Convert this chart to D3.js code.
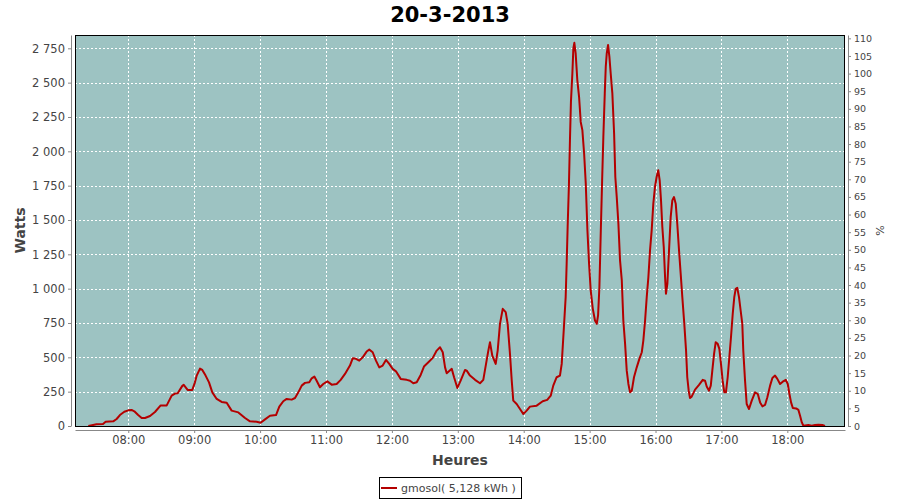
<!DOCTYPE html>
<html><head><meta charset="utf-8">
<script src="https://cdn.jsdelivr.net/npm/d3@7"></script>
<style>body{margin:0;background:#fff}svg{display:block}</style>
</head><body>
<script>
const title = "20-3-2013";
const seriesName = "gmosol( 5,128 kWh )";
const hourTicks = [480,540,600,660,720,780,840,900,960,1020,1080];
const wattTicks = [0,250,500,750,1000,1250,1500,1750,2000,2250,2500,2750];
const pctTicks = [0,5,10,15,20,25,30,35,40,45,50,55,60,65,70,75,80,85,90,95,100,105,110];
// time in minutes since midnight
const minutes = [443.6,448,451,457,459.4,466.3,469.4,472.4,476.4,480,483,485.5,489,492.2,495.2,499.8,504.3,509.5,515,519.5,522.5,525,529.2,530.5,534,538.3,540.7,542.3,545.3,547.4,550.4,553.5,556.5,560.5,565,569.6,574.1,580.2,586.3,590.8,596.9,600.5,604.5,609,614.5,617.5,621.1,624.2,628.8,631.8,634.8,637.9,640.9,644.8,647,649.4,651.5,654.5,657.5,661.2,665.2,669.7,673.4,677.3,681.8,684.3,687.3,690.3,693.4,697,699.4,702.5,705.5,708.5,711.6,714.6,717.6,720.7,723.7,728,733.5,736.5,739.5,742.6,746.2,749.2,753.2,757.2,760.8,763.8,766.3,768.4,769.9,774.5,776.6,779.6,782.6,786.6,788.1,791.1,795.7,800.2,803.2,805.7,807.8,809.3,811.4,814.5,816.3,818.4,820.9,823.6,825.4,827.5,829.1,830.5,833.6,836.6,839.6,842.7,845.7,851.8,857.3,861.4,864.6,866.9,870,873,874.6,876.6,878.2,879.1,880,881.2,882.1,883,884.3,885.2,886.1,887.3,888.8,890.4,891.9,893.4,895,896.5,898,899.5,901,902.9,904.9,906.5,907.7,908.9,910.2,911.4,912.5,913.8,914.7,915.6,916.8,918,919.2,920.7,922.3,923.4,924.7,926.2,927.7,929.3,930.7,932.3,933.8,935.3,936.8,938.4,940.4,942.9,945.3,947.5,948.9,950.5,952,953.5,955,956.5,958,959.5,961,962.5,963.8,965,966.2,967.5,968.7,969.5,970.8,972.3,973.8,975.3,976.8,978.4,979.8,981.4,982.9,984.4,986.2,987.8,988.9,990.2,991.4,992.9,996,999.6,1003,1005.1,1006.6,1008.7,1010.3,1011.7,1013.3,1014.8,1016.6,1018.1,1019.6,1021.1,1022.6,1024.1,1025.7,1027.2,1028.7,1030.3,1031.7,1033,1034.4,1036,1037.5,1039,1039.9,1041.5,1043,1045.1,1047.6,1050.6,1053.1,1055.2,1057.3,1059.7,1061.8,1064.3,1066.4,1068.8,1070.9,1073.4,1075.8,1078.6,1080.4,1081.9,1083.4,1085,1088,1090.1,1091.6,1093.2,1094.6,1099.2,1102.2,1105.2,1108.3,1111.9,1114.3];
const watts = [0,7,12,15,31,34,51,80,104,114,117,107,80,58,58,73,102,150,150,221,236,238,292,300,263,263,318,367,418,408,367,318,245,197,175,170,112,99,58,34,31,24,48,75,80,141,180,197,192,204,245,294,314,318,347,360,330,282,306,325,301,306,336,379,440,493,489,476,500,542,556,537,476,427,440,481,452,416,398,343,336,330,311,318,372,433,464,496,549,573,537,427,384,416,355,277,330,408,403,367,336,311,336,452,549,610,513,452,549,744,853,829,744,525,330,185,160,124,88,112,141,148,180,190,221,294,355,367,452,719,938,1182,1449,1765,2081,2360,2567,2750,2790,2713,2519,2397,2214,2154,1984,1765,1425,1182,987,853,768,744,805,1011,1425,1789,2105,2422,2616,2713,2774,2689,2567,2422,2130,1813,1667,1473,1206,1060,768,598,403,306,245,257,355,427,489,537,622,768,938,1084,1279,1425,1619,1740,1813,1862,1789,1643,1449,1303,1084,963,1036,1279,1521,1643,1667,1619,1473,1279,1109,938,744,549,355,257,204,214,265,299,336,330,287,257,294,403,525,610,598,562,452,330,245,245,355,500,646,817,938,999,1006,938,841,744,549,330,160,124,185,245,233,172,143,153,209,294,350,367,343,306,323,336,306,233,172,131,128,117,75,26,2,7,2,7,9,7,0];

const W = 900, H = 500;
const L = 75, R = 845, T = 35, B = 426;
const wattMax = 2847, pctMax = 110.95;

const svg = d3.select("body").append("svg").attr("width", W).attr("height", H)
  .style("font-family", "'DejaVu Sans', sans-serif");

const x = d3.scaleLinear().domain([431.5, 1132.5]).range([L, R]);
const y = d3.scaleLinear().domain([0, wattMax]).range([B, T]);
const y2 = d3.scaleLinear().domain([0, pctMax]).range([B, T]);

const loc = d3.formatLocale({decimal: ",", thousands: " ", grouping: [3], currency: ["", ""]});
const fmtW = loc.format(",d");
const fmtH = m => String(Math.floor(m/60)).padStart(2,"0") + ":" + String(m%60).padStart(2,"0");

// plot background
svg.append("rect").attr("x", L).attr("y", T).attr("width", R-L).attr("height", B-T).attr("fill", "#9dc3c2");

// grid
const grid = svg.append("g").attr("stroke", "#fff").attr("stroke-width", 1).attr("stroke-dasharray", "2,2");
wattTicks.forEach(v => grid.append("line").attr("x1", L).attr("x2", R)
  .attr("y1", Math.round(y(v))+0.5).attr("y2", Math.round(y(v))+0.5));
hourTicks.forEach(v => grid.append("line").attr("y1", T).attr("y2", B)
  .attr("x1", Math.round(x(v))+0.5).attr("x2", Math.round(x(v))+0.5));

// line
const line = d3.line().x((d,i) => x(minutes[i])).y(d => y(d));
svg.append("path").datum(watts).attr("d", line).attr("fill", "none")
  .attr("stroke", "#b40000").attr("stroke-width", 2).attr("stroke-linejoin", "round");

// plot border
svg.append("rect").attr("x", L+0.5).attr("y", T+0.5).attr("width", R-L-1).attr("height", B-T)
  .attr("fill", "none").attr("stroke", "#000").attr("stroke-width", 1);

// axes
function styleAxis(g, size) {
  g.selectAll(".domain").attr("stroke", "#888");
  g.selectAll(".tick line").attr("stroke", "#888");
  g.selectAll(".tick text").attr("fill", "#444").style("font-size", size).style("font-family", "'DejaVu Sans', sans-serif");
}
const gl = svg.append("g").attr("transform", `translate(${L-4},0)`)
  .call(d3.axisLeft(y).tickValues(wattTicks).tickFormat(fmtW).tickSize(3).tickSizeOuter(0).tickPadding(3));
styleAxis(gl, "11.5px");
const gr = svg.append("g").attr("transform", `translate(${R+3},0)`)
  .call(d3.axisRight(y2).tickValues(pctTicks).tickSize(3).tickSizeOuter(0).tickPadding(3));
styleAxis(gr, "9.5px");
const gb = svg.append("g").attr("transform", `translate(0,${B+4})`)
  .call(d3.axisBottom(x).tickValues(hourTicks).tickFormat(fmtH).tickSize(3).tickSizeOuter(0).tickPadding(3));
styleAxis(gb, "11.5px");

// titles
svg.append("text").attr("x", 450).attr("y", 22).attr("text-anchor", "middle")
  .style("font-size", "21px").style("font-weight", "bold").attr("fill", "#000").text(title);
svg.append("text").attr("transform", `translate(25,${(T+B)/2}) rotate(-90)`).attr("text-anchor", "middle")
  .style("font-size", "14px").style("font-weight", "bold").attr("fill", "#444").text("Watts");
svg.append("text").attr("transform", `translate(884,${(T+B)/2}) rotate(-90)`).attr("text-anchor", "middle")
  .style("font-size", "11px").attr("fill", "#444").text("%");
svg.append("text").attr("x", (L+R)/2).attr("y", 465).attr("text-anchor", "middle")
  .style("font-size", "14px").style("font-weight", "bold").attr("fill", "#444").text("Heures");

// legend
const lg = svg.append("g");
lg.append("rect").attr("x", 379.5).attr("y", 477.5).attr("width", 142).attr("height", 21)
  .attr("fill", "#fff").attr("stroke", "#000");
lg.append("line").attr("x1", 381).attr("x2", 397).attr("y1", 488).attr("y2", 488)
  .attr("stroke", "#b40000").attr("stroke-width", 2);
lg.append("text").attr("x", 401).attr("y", 492).style("font-size", "11px").attr("fill", "#444").text(seriesName);
</script>
</body></html>
